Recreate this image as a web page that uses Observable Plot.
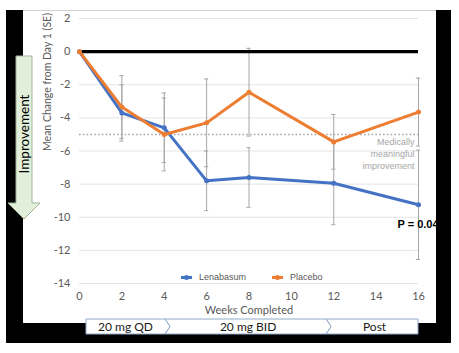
<!DOCTYPE html>
<html><head><meta charset="utf-8">
<script src="https://cdn.jsdelivr.net/npm/d3@7"></script>
<script src="https://cdn.jsdelivr.net/npm/@observablehq/plot@0.6"></script>
<style>
html,body{margin:0;padding:0;background:#fff;width:459px;height:353px;overflow:hidden;}
#wrap{position:relative;width:459px;height:353px;}
.abs{position:absolute;}
#legend{position:absolute;top:272px;left:181px;font:9px "Liberation Sans",Arial,sans-serif;color:#595959;display:flex;align-items:center;}
#legend .sw{display:inline-block;width:11px;height:3px;position:relative;margin-right:7px;}
#legend .sw::after{content:"";position:absolute;left:3px;top:-1px;width:5px;height:5px;border-radius:50%;background:inherit;}
</style></head>
<body><div id="wrap">
<div class="abs" style="left:6px;top:10px;width:445px;height:333px;background:#000"></div>
<div class="abs" style="left:23px;top:10px;width:413px;height:313px;background:#fff;border-top:1px solid #d0d0d0;box-sizing:border-box"></div>
<div id="plot" class="abs" style="left:0;top:0"></div>
<div class="abs" style="left:436px;top:10px;width:15px;height:333px;background:#000"></div>
<div id="legend"></div>
<svg class="abs" id="deco" width="459" height="353" style="left:0;top:0"></svg>
</div>
<script>
// ---- data ----
const weeks = [0, 2, 4, 6, 8, 12, 16];
const lenabasum = [0, -3.7, -4.6, -7.8, -7.6, -7.95, -9.25];
const lenabasumSE = [0, 1.7, 2.1, 1.8, 1.8, 2.5, 3.3];
const placebo = [0, -3.35, -5.0, -4.3, -2.45, -5.45, -3.65];
const placeboSE = [0, 1.9, 2.2, 2.65, 2.65, 1.65, 2.05];
const seriesNames = ["Lenabasum", "Placebo"];
const seriesColors = ["#4472C4", "#ED7D31"];
const yTicks = [2, 0, -2, -4, -6, -8, -10, -12, -14];
const xTicks = [0, 2, 4, 6, 8, 10, 12, 14, 16];
const mcid = -5;
const mcidLabel = ["Medically", "meaningful", "improvement"];
const pLabel = "P = 0.04";
const phases = ["20 mg QD", "20 mg BID", "Post"];
const phaseEnds = [4.3, 11.9, 16];

const rows = [];
weeks.forEach((w, i) => {
  rows.push({series: seriesNames[0], week: w, value: lenabasum[i], se: lenabasumSE[i]});
  rows.push({series: seriesNames[1], week: w, value: placebo[i], se: placeboSE[i]});
});
const bars = rows.filter(d => d.se > 0);
const colorOf = s => seriesColors[seriesNames.indexOf(s)];

const chart = Plot.plot({
  width: 459, height: 353,
  marginLeft: 79, marginRight: 41, marginTop: 18, marginBottom: 70,
  style: {background: "transparent", fontFamily: "Lato, sans-serif", fontSize: "11px", color: "#595959"},
  x: {domain: [0, 16], ticks: xTicks, tickSize: 0, tickPadding: 9, label: null, tickFormat: d => String(d)},
  y: {domain: [-14, 2], ticks: yTicks, tickSize: 0, tickPadding: 9, label: null, tickFormat: d => String(d)},
  marks: [
    Plot.ruleY(yTicks, {stroke: "#e4e4e4", strokeWidth: 1}),
    Plot.ruleX(bars, {x: "week", y1: d => d.value - d.se, y2: d => d.value + d.se, stroke: "#a6a6a6", strokeWidth: 1}),
    Plot.ruleY(bars, {y: d => d.value - d.se, x1: d => d.week - 0.1, x2: d => d.week + 0.1, stroke: "#a6a6a6", strokeWidth: 1}),
    Plot.ruleY(bars, {y: d => d.value + d.se, x1: d => d.week - 0.1, x2: d => d.week + 0.1, stroke: "#a6a6a6", strokeWidth: 1}),
    Plot.ruleY([mcid], {stroke: "#a6a6a6", strokeWidth: 1.6, strokeDasharray: "1.6,2.2"}),
    Plot.ruleY([0], {stroke: "#000", strokeWidth: 3.2}),
    Plot.line(rows, {x: "week", y: "value", z: "series", stroke: d => colorOf(d.series), strokeWidth: 3}),
    Plot.dot(rows, {x: "week", y: "value", fill: d => colorOf(d.series), r: 2.5}),
    Plot.text([mcidLabel.join("\n")], {x: 16, y: mcid, text: d => d, dx: -4, dy: 2, lineAnchor: "top", lineHeight: 1.33,
      textAnchor: "end", fill: "#a6a6a6", fontFamily: "Liberation Sans, Arial, sans-serif", fontSize: 9}),
    Plot.text([pLabel], {x: 16, y: lenabasum[lenabasum.length - 1], text: d => d, dx: -21, dy: 20, textAnchor: "start",
      fill: "#000", fontWeight: "bold", fontFamily: "Liberation Sans, Arial, sans-serif", fontSize: 11}),
    Plot.text(["Weeks Completed"], {text: d => d, frameAnchor: "bottom", dy: 30, fill: "#595959", fontSize: 11}),
    Plot.text(["Mean Change from Day 1 (SE)"], {text: d => d, frameAnchor: "left", dx: -32, rotate: -90, fill: "#595959", fontSize: 10.5})
  ]
});
document.getElementById("plot").appendChild(chart);

// legend
const leg = document.getElementById("legend");
seriesNames.forEach((n, i) => {
  const item = document.createElement("span");
  item.style.display = "inline-flex"; item.style.alignItems = "center"; item.style.marginRight = i === 0 ? "26px" : "0";
  const sw = document.createElement("span"); sw.className = "sw"; sw.style.background = seriesColors[i];
  item.appendChild(sw); item.appendChild(document.createTextNode(n));
  leg.appendChild(item);
});

// decorations: phase chevrons and improvement arrow
const sx = d3.scaleLinear([0, 16], [79, 418]);
const deco = d3.select("#deco");
const y0 = 319, y1 = 334, ym = (y0 + y1) / 2, tip = 5;
let left = 86;
phases.forEach((p, i) => {
  const right = sx(phaseEnds[i]) - (i < phases.length - 1 ? tip : 0);
  const pts = [];
  pts.push([left, y0]);
  pts.push([right, y0]);
  if (i < phases.length - 1) pts.push([right + tip, ym]);
  pts.push([right, y1]);
  pts.push([left, y1]);
  if (i > 0) pts.push([left + tip, ym]);
  deco.append("polygon").attr("points", pts.map(p => p.join(",")).join(" "))
    .attr("fill", "#fff").attr("stroke", "#8eaacb").attr("stroke-width", 1);
  deco.append("text").attr("x", (left + right + (i > 0 ? tip : 0)) / 2).attr("y", ym).attr("dy", "0.35em")
    .attr("text-anchor", "middle").attr("font-family", "Lato, sans-serif").attr("font-size", 12).attr("fill", "#1a1a1a").text(p);
  left = right;
});
deco.append("polygon").attr("points", "16,56 32,56 32,203 40,203 24,219 8,203 16,203")
  .attr("fill", "#e2efda").attr("stroke", "#9fb59a").attr("stroke-width", 1);
deco.append("text").attr("transform", "translate(24,134) rotate(-90)").attr("dy", "0.35em")
  .attr("text-anchor", "middle").attr("font-family", "Lato, sans-serif").attr("font-size", 13.5).attr("fill", "#000").text("Improvement");
</script>
</body></html>
